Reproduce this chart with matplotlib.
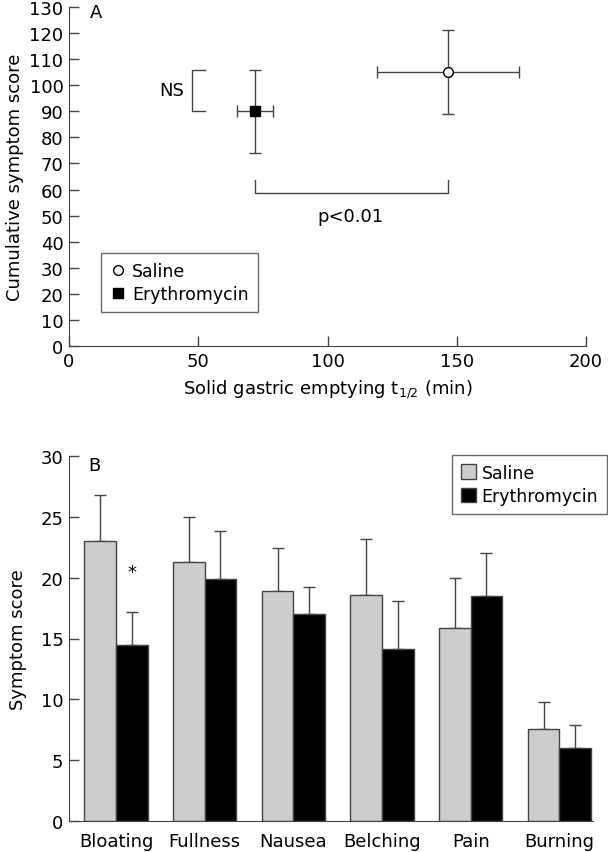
import numpy as np
import matplotlib
matplotlib.use("Agg")
import matplotlib.pyplot as plt
from matplotlib.lines import Line2D

plt.rcParams['font.family'] = ['DejaVu Sans']
plt.rcParams['mathtext.fontset'] = 'dejavusans'

# panel A: gastric emptying vs cumulative symptom score
groups = ['Saline', 'Erythromycin']
t_half = [146.5, 72.0]
t_half_err = [27.5, 7.0]
cum_score = [105.0, 90.0]
cum_score_err = [16.0, 16.0]

# panel B: symptom scores
symptoms = ['Bloating', 'Fullness', 'Nausea', 'Belching', 'Pain', 'Burning']
saline = [23.0, 21.3, 18.9, 18.6, 15.9, 7.6]
saline_err = [3.8, 3.7, 3.5, 4.6, 4.1, 2.2]
erythro = [14.5, 19.9, 17.0, 14.1, 18.5, 6.0]
erythro_err = [2.7, 3.9, 2.2, 4.0, 3.5, 1.9]

W, H = 608, 853
fig = plt.figure(figsize=(W / 100, H / 100), dpi=100)

edge = '#444444'
fs = 13
tick_kw = dict(direction='in', length=7, width=1, labelsize=fs, pad=4)

# ---------------- A ----------------
ax1 = fig.add_axes([69 / W, 1 - 347 / H, 517 / W, 339 / H])
ax1.errorbar(t_half[0], cum_score[0], xerr=t_half_err[0], yerr=cum_score_err[0],
             fmt='o', mfc='white', mec='black', ms=7, ecolor=edge, elinewidth=1,
             capsize=4, capthick=1, zorder=3)
ax1.errorbar(t_half[1], cum_score[1], xerr=t_half_err[1], yerr=cum_score_err[1],
             fmt='s', mfc='black', mec='black', ms=6.5, ecolor=edge, elinewidth=1,
             capsize=4, capthick=1, zorder=3)

# NS bracket
ax1.plot([52.5, 47.5, 47.5, 52.5], [106, 106, 90, 90], color=edge, lw=1)
ax1.text(44.5, 98, 'NS', ha='right', va='center', fontsize=fs)
# p<0.01 bracket
ax1.plot([72, 72, 146.5, 146.5], [63.5, 58.7, 58.7, 63.5], color=edge, lw=1)
ax1.text(109, 50, 'p<0.01', ha='center', va='center', fontsize=fs)
ax1.text(10.5, 128, 'A', ha='center', va='center', fontsize=fs)

ax1.set_xlim(0, 200)
ax1.set_ylim(0, 130)
ax1.set_xticks([0, 50, 100, 150, 200])
ax1.set_yticks(np.arange(0, 131, 10))
ax1.spines['top'].set_visible(False)
ax1.spines['right'].set_visible(False)
for s in ['left', 'bottom']:
    ax1.spines[s].set_color(edge)
ax1.tick_params(colors=edge, labelcolor='black', **tick_kw)
ax1.set_xlabel('Solid gastric emptying t$_{1/2}$ (min)', fontsize=fs, labelpad=6)
ax1.set_ylabel('Cumulative symptom score', fontsize=fs, labelpad=4)

hA = [Line2D([], [], marker='o', ls='none', mfc='white', mec='black', ms=7),
      Line2D([], [], marker='s', ls='none', mfc='black', mec='black', ms=6.5)]
legA = ax1.legend(hA, groups, loc='lower left', bbox_to_anchor=(101 / W, 1 - 313 / H),
                  bbox_transform=fig.transFigure, fontsize=12.5, frameon=True,
                  fancybox=False, edgecolor=edge, handletextpad=0.3,
                  borderpad=0.5, handlelength=1.0, labelspacing=0.3,
                  borderaxespad=0)
legA.get_frame().set_linewidth(1)

# ---------------- B ----------------
x = np.arange(len(symptoms))
bw = 0.356
ax2 = fig.add_axes([69 / W, 1 - 822 / H, 524 / W, 365 / H])
ax2.bar(x - bw / 2, saline, bw, color='#cdcdcd', edgecolor=edge, lw=1,
        label='Saline', zorder=2)
ax2.bar(x + bw / 2, erythro, bw, color='black', edgecolor=edge, lw=1,
        label='Erythromycin', zorder=2)
ax2.errorbar(x - bw / 2, saline, yerr=[np.zeros(len(x)), saline_err], fmt='none',
             ecolor=edge, elinewidth=1, capsize=4, capthick=1, zorder=1)
ax2.errorbar(x + bw / 2, erythro, yerr=[np.zeros(len(x)), erythro_err], fmt='none',
             ecolor=edge, elinewidth=1, capsize=4, capthick=1, zorder=1)
ax2.text(x[0] + bw / 2, 20.5, '*', ha='center', va='center', fontsize=fs)
ax2.text(-0.24, 29.3, 'B', ha='center', va='center', fontsize=fs)

ax2.set_xlim(-0.53, 5.38)
ax2.set_ylim(0, 30)
ax2.set_xticks(x)
ax2.set_xticklabels(symptoms)
ax2.set_yticks(np.arange(0, 31, 5))
ax2.spines['top'].set_visible(False)
ax2.spines['right'].set_visible(False)
for s in ['left', 'bottom']:
    ax2.spines[s].set_color(edge)
ax2.tick_params(axis='y', colors=edge, labelcolor='black', **tick_kw)
ax2.tick_params(axis='x', length=0, labelsize=fs, pad=8)
ax2.set_ylabel('Symptom score', fontsize=fs, labelpad=10)

legB = ax2.legend(loc='upper right', bbox_to_anchor=(607 / W, 1 - 456 / H),
                  bbox_transform=fig.transFigure, fontsize=12.5, frameon=True,
                  fancybox=False, edgecolor=edge, handletextpad=0.3,
                  borderpad=0.5, handlelength=0.9, handleheight=0.9,
                  labelspacing=0.3, borderaxespad=0)
legB.get_frame().set_linewidth(1)

fig.savefig('out.png', dpi=100)
